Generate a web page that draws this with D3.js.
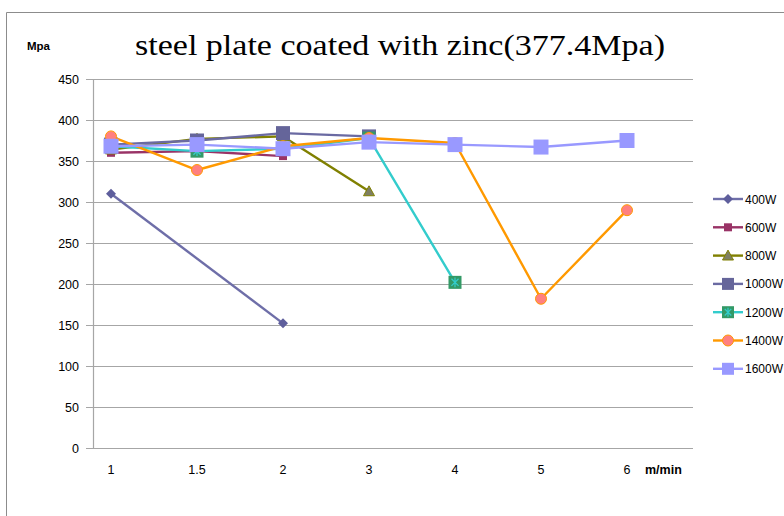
<!DOCTYPE html>
<html>
<head>
<meta charset="utf-8">
<script src="https://cdn.jsdelivr.net/npm/d3@7"></script>
<style>
  html, body { margin: 0; padding: 0; background: #fff; }
  svg { display: block; }
</style>
</head>
<body>
<svg id="chart" width="784" height="516"></svg>
<script>
// Line speed categories (m/min)
const categories = ["1", "1.5", "2", "3", "4", "5", "6"];
const yTicks = [0, 50, 100, 150, 200, 250, 300, 350, 400, 450];

// Tensile strength (Mpa) per laser power; null = not measured
const s400W  = [310, null, 152, null, null, null, null];
const s600W  = [360, 362, 356, null, null, null, null];
const s800W  = [364, 377, 380, 313, null, null, null];
const s1000W = [370, 375, 384, 380, null, null, null];
const s1200W = [368, 362, 365, 378, 202, null, null];
const s1400W = [380, 339, 368, 378, 372, 182, 290];
const s1600W = [368, 370, 365, 373, 370, 367, 375];

const seriesNames = ["400W", "600W", "800W", "1000W", "1200W", "1400W", "1600W"];
const seriesValues = [s400W, s600W, s800W, s1000W, s1200W, s1400W, s1600W];

const styles = {
  "400W":  { line: "#6E6EA8", fill: "#5E5E9C", stroke: "#5E5E9C", shape: "diamond",  size: 10 },
  "600W":  { line: "#993366", fill: "#993366", stroke: "#993366", shape: "square",   size: 8 },
  "800W":  { line: "#808000", fill: "#7F7F62", stroke: "#808000", shape: "triangle", size: 11 },
  "1000W": { line: "#6A6AA2", fill: "#65659A", stroke: "#65659A", shape: "square",   size: 14 },
  "1200W": { line: "#33CCCC", fill: "#339966", stroke: "#339966", shape: "star",     size: 13 },
  "1400W": { line: "#FF9900", fill: "#FF8080", stroke: "#FF9900", shape: "circle",   size: 11 },
  "1600W": { line: "#9999FF", fill: "#9999FF", stroke: "#9999FF", shape: "square",   size: 15 }
};

const svg = d3.select("#chart");

// outer frame
svg.append("path")
  .attr("d", "M6.5,516 L6.5,12.5 L784,12.5")
  .attr("fill", "none").attr("stroke", "#8c8c8c").attr("stroke-width", 1);

const x = d3.scalePoint().domain(categories).range([111, 627]);
const y = d3.scaleLinear().domain([0, 450]).range([448, 79]);
const plotLeft = 93, plotRight = 693;

// horizontal gridlines with short outer ticks
svg.append("g").selectAll("line").data(yTicks).join("line")
  .attr("x1", plotLeft - 7).attr("x2", plotRight)
  .attr("y1", d => y(d) + 0.5).attr("y2", d => y(d) + 0.5)
  .attr("stroke", "#a6a6a6").attr("stroke-width", 1.2);

// value axis line
svg.append("line")
  .attr("x1", plotLeft + 0.5).attr("x2", plotLeft + 0.5)
  .attr("y1", y(450)).attr("y2", y(0))
  .attr("stroke", "#a6a6a6").attr("stroke-width", 1.2);

// y tick labels
svg.append("g").selectAll("text").data(yTicks).join("text")
  .attr("x", 79).attr("y", d => y(d) + 4.5)
  .attr("text-anchor", "end")
  .attr("font-family", "Liberation Sans, Arial, sans-serif")
  .attr("font-size", 12.5).attr("fill", "#000")
  .text(d => d);

// x tick labels
svg.append("g").selectAll("text").data(categories).join("text")
  .attr("x", d => x(d)).attr("y", 474)
  .attr("text-anchor", "middle")
  .attr("font-family", "Liberation Sans, Arial, sans-serif")
  .attr("font-size", 12.5).attr("fill", "#000")
  .text(d => d);

// axis titles
svg.append("text").attr("x", 27).attr("y", 50)
  .attr("font-family", "Liberation Sans, Arial, sans-serif")
  .attr("font-weight", "bold").attr("font-size", 11.5)
  .text("Mpa");
svg.append("text").attr("x", 645).attr("y", 474)
  .attr("font-family", "Liberation Sans, Arial, sans-serif")
  .attr("font-weight", "bold").attr("font-size", 12.5)
  .text("m/min");

// chart title
svg.append("text").attr("x", 400).attr("y", 55)
  .attr("text-anchor", "middle")
  .attr("font-family", "Liberation Serif, DejaVu Serif, serif")
  .attr("font-size", 29)
  .attr("textLength", 530).attr("lengthAdjust", "spacingAndGlyphs")
  .text("steel plate coated with zinc(377.4Mpa)");

function drawMarker(g, shape, size, st) {
  const h = size / 2;
  if (shape === "square") {
    g.append("rect").attr("x", -h).attr("y", -h).attr("width", size).attr("height", size)
      .attr("fill", st.fill);
  } else if (shape === "diamond") {
    g.append("path").attr("d", `M0,${-h} L${h},0 L0,${h} L${-h},0 Z`).attr("fill", st.fill);
  } else if (shape === "triangle") {
    g.append("path").attr("d", `M0,${-h} L${h},${h * 0.8} L${-h},${h * 0.8} Z`)
      .attr("fill", st.fill).attr("stroke", st.stroke).attr("stroke-width", 1);
  } else if (shape === "circle") {
    g.append("circle").attr("r", h).attr("fill", st.fill)
      .attr("stroke", st.stroke).attr("stroke-width", 1);
  } else if (shape === "star") {
    g.append("rect").attr("x", -h).attr("y", -h).attr("width", size).attr("height", size)
      .attr("fill", st.fill);
    const a = h * 0.55;
    g.append("path")
      .attr("d", `M${-a},${-a} L${a},${a} M${a},${-a} L${-a},${a} M0,${-h * 0.75} L0,${h * 0.75}`)
      .attr("stroke", st.line).attr("stroke-width", 1.2).attr("fill", "none");
  }
}

const line = d3.line().x(d => x(d.cat)).y(d => y(d.v));

seriesNames.forEach((name, i) => {
  const st = styles[name];
  const pts = categories.map((c, j) => ({ cat: c, v: seriesValues[i][j] }))
    .filter(d => d.v !== null);
  const g = svg.append("g");
  g.append("path").datum(pts).attr("d", line)
    .attr("fill", "none").attr("stroke", st.line)
    .attr("stroke-width", 2.4).attr("stroke-linejoin", "round");
  pts.forEach(p => {
    const m = g.append("g").attr("transform", `translate(${x(p.cat)},${y(p.v)})`);
    drawMarker(m, st.shape, st.size, st);
  });
});

// legend
const legend = svg.append("g");
seriesNames.forEach((name, i) => {
  const st = styles[name];
  const ly = 199 + i * 28.3;
  const g = legend.append("g").attr("transform", `translate(0,${ly})`);
  g.append("line").attr("x1", 713).attr("x2", 743).attr("y1", 0).attr("y2", 0)
    .attr("stroke", st.line).attr("stroke-width", 2.4);
  const m = g.append("g").attr("transform", "translate(728,0)");
  drawMarker(m, st.shape, Math.min(st.size, 12), st);
  g.append("text").attr("x", 745).attr("y", 4.5)
    .attr("font-family", "Liberation Sans, Arial, sans-serif")
    .attr("font-size", 12).text(name);
});
</script>
</body>
</html>
